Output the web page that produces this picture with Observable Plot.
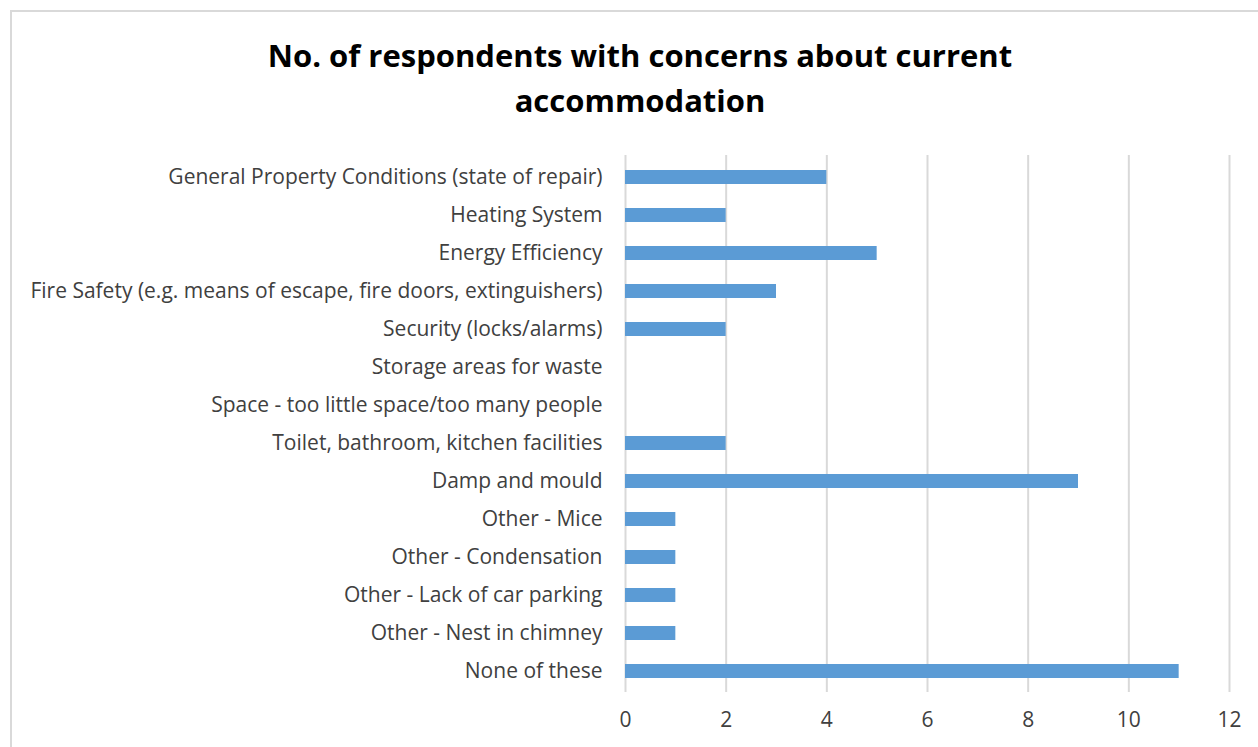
<!DOCTYPE html>
<html>
<head>
<meta charset="utf-8">
<script src="https://cdn.jsdelivr.net/npm/d3@7"></script>
<script src="https://cdn.jsdelivr.net/npm/@observablehq/plot@0.6"></script>
<style>
  html, body { margin: 0; padding: 0; background: #fff; }
  #wrap { position: relative; width: 1258px; height: 747px; overflow: hidden; font-family: "Open Sans", Lato, sans-serif; }
  #frame { position: absolute; left: 10px; top: 10px; width: 1300px; height: 800px; border-left: 2px solid #d9d9d9; border-top: 2px solid #d9d9d9; }
  #title { position: absolute; left: 11px; width: 1258px; top: 33px; text-align: center; font-weight: bold; font-size: 31px; line-height: 45px; color: #000; }
  #chart { position: absolute; left: 0; top: 140px; }
</style>
</head>
<body>
<div id="wrap">
  <div id="frame"></div>
  <div id="title">No. of respondents with concerns about current<br>accommodation</div>
  <div id="chart"></div>
</div>
<script>
const categories = [
  "General Property Conditions (state of repair)",
  "Heating System",
  "Energy Efficiency",
  "Fire Safety (e.g. means of escape, fire doors, extinguishers)",
  "Security (locks/alarms)",
  "Storage areas for waste",
  "Space - too little space/too many people",
  "Toilet, bathroom, kitchen facilities",
  "Damp and mould",
  "Other - Mice",
  "Other - Condensation",
  "Other - Lack of car parking",
  "Other - Nest in chimney",
  "None of these"
];
const counts = [4, 2, 5, 3, 2, 0, 0, 2, 9, 1, 1, 1, 1, 11];
const xTicks = [0, 2, 4, 6, 8, 10, 12];

const data = categories.map((c, i) => ({category: c, value: counts[i]}));

const chart = Plot.plot({
  width: 1258,
  height: 600,
  marginLeft: 625,
  marginRight: 29,
  marginTop: 15,
  marginBottom: 48,
  style: {fontFamily: "'Open Sans', Lato, sans-serif", fontSize: "21px", color: "#404040", background: "transparent"},
  x: {domain: [0, 12], ticks: xTicks, tickSize: 0, tickPadding: 20, label: null},
  y: {domain: categories, paddingInner: 0.635, paddingOuter: 0.3175, tickSize: 0, tickPadding: 23, label: null},
  marks: [
    Plot.gridX(xTicks, {stroke: "#d9d9d9", strokeOpacity: 1, strokeWidth: 2}),
    Plot.barX(data, {x: "value", y: "category", fill: "#5b9bd5"})
  ]
});
document.getElementById("chart").appendChild(chart);
</script>
</body>
</html>
